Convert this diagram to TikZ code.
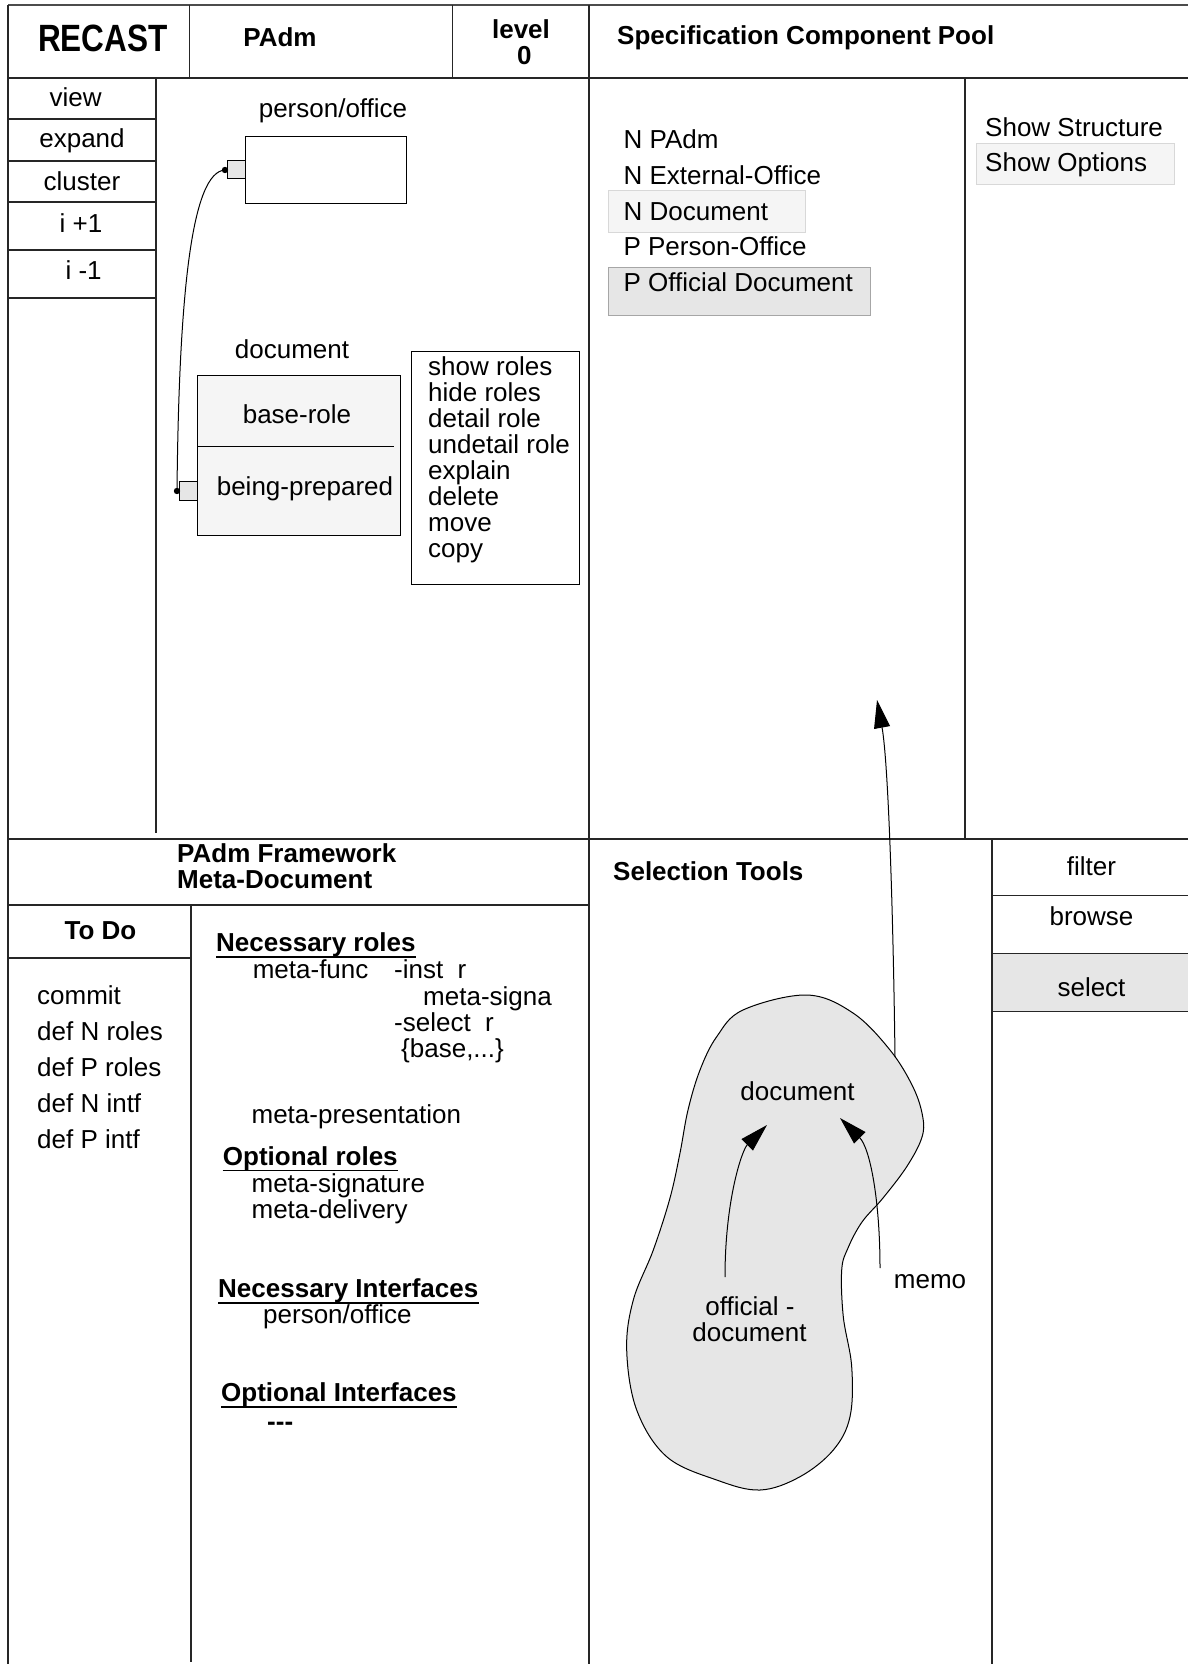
\documentclass[tikz,border=0pt]{standalone}
\usepackage{fontspec}
\setmainfont{Liberation Sans}
\usetikzlibrary{arrows.meta}
\definecolor{fillgray}{HTML}{E6E6E6}
\definecolor{paleg}{HTML}{F5F5F5}
\definecolor{edgeg}{HTML}{D8D8D8}
\newcommand\myfs{\fontsize{26}{26}\selectfont}
\begin{document}
\begin{tikzpicture}[x=1pt,y=-1pt,
  panel/.style={line width=1.4pt, black!85},
  thinline/.style={line width=1pt, black},
  txt/.style={inner sep=0pt, font=\myfs},
  lt/.style={txt, anchor=base west},
  ct/.style={txt, anchor=base},
  bt/.style={lt, font=\myfs\bfseries},
  bct/.style={ct, font=\myfs\bfseries},
  box/.style={draw, thinline, inner sep=0pt, rectangle},
  port/.style={box, fill=fillgray, minimum width=18pt, minimum height=18pt},
  arr/.style={line width=1pt, -{Triangle[length=28pt,width=16pt]}},
  ulin/.style={line width=1.5pt}
]
\useasboundingbox (0,0) rectangle (1188,1664);
\fill[white] (0,0) rectangle (1188,1664);

% ---------- frame ----------
\draw[line width=2.2pt, black!70] (8,5) -- (1188,5);
\draw[panel] (8,5) -- (8,1664);
\draw[panel] (189.4,5) -- (189.4,78);
\draw[panel] (452.4,5) -- (452.4,78);
\draw[panel] (589,5) -- (589,1664);
\draw[panel] (8,78) -- (1188,78);
\draw[panel] (156,78) -- (156,833);
\foreach \yy in {119,161,202,250,298} \draw[panel] (8,\yy) -- (156,\yy);
\draw[panel] (965,78) -- (965,839);
\draw[panel] (8,839) -- (1188,839);
\draw[panel] (8,905) -- (589,905);
\draw[panel] (191,905) -- (191,1662);
\draw[panel] (8,958) -- (191,958);
\fill[fillgray] (992,953.3) rectangle (1188,1011.7);
\draw[panel] (992,839) -- (992,1664);
\foreach \yy in {895.7,953.3,1011.7} \draw[panel] (992,\yy) -- (1188,\yy);

% ---------- header ----------
\node[ct, font=\fontsize{38}{38}\selectfont\bfseries] (recast) at (103,51.7) {\scalebox{0.83}[1]{RECAST}};
\node[bct] (padm) at (280,46.7) {PAdm};
\node[bct] (level) at (521,38.3) {level};
\node[bct] (levelno) at (524.3,64.3) {0};
\node[bt] (pool) at (617,45) {Specification Component Pool};

% ---------- left menu ----------
\node[ct] (mview) at (75.6,107) {view};
\node[ct] (mexpand) at (82,148) {expand};
\node[ct] (mcluster) at (82,190) {cluster};
\node[ct] (mplus) at (81,232) {i +1};
\node[ct] (mminus) at (83.6,279) {i -1};

% ---------- top-left drawing ----------
\node[ct] (polbl) at (333,118) {person/office};
\node[box, fill=white, minimum width=161pt, minimum height=66pt] (po) at (325.5,170) {};
\node[port] (pop) at (236,170) {};
\coordinate (dtop) at (225,170);

\node[ct] (doclbl) at (292,358) {document};
\node[box, fill=paleg, minimum width=202.3pt, minimum height=160.7pt] (doc) at (298.85,455.35) {};
\draw[thinline] (197.7,446.7) -- (394.3,446.7);
\node[ct] (baserole) at (297,423) {base-role};
\node[ct] (beingprep) at (305,495) {being-prepared};
\node[port, minimum width=18.4pt, minimum height=18.6pt] (docp) at (188.5,491) {};
\coordinate (dbot) at (177,491);

\draw[thinline] (dbot) .. controls (179,290) and (192,172) .. (dtop);
\fill (dbot) circle (3.2);
\fill (dtop) circle (3.2);

\node[box, minimum width=167.3pt, minimum height=232.3pt] (menu) at (495.35,467.85) {};
\foreach \t [count=\i from 0] in {show roles,hide roles,detail role,undetail role,explain,delete,move,copy}
  \node[lt] (menu\i) at (428,375+26*\i) {\t};

% ---------- component pool ----------
\draw[fill=paleg, draw=edgeg, line width=1pt] (608,190.7) rectangle (805,232.3);
\draw[fill=fillgray, draw=black!35, line width=1pt] (608,267.7) rectangle (870,315.7);
\node[lt] (p1) at (623.4,148.3) {N PAdm};
\node[lt] (p2) at (623.4,184.1) {N External-Office};
\node[lt] (p3) at (623.4,220) {N Document};
\node[lt] (p4) at (623.4,255.8) {P Person-Office};
\node[lt] (p5) at (623.4,291.7) {P Official Document};

\draw[fill=paleg, draw=edgeg, line width=1pt] (976.7,143.3) rectangle (1174,184.3);
\node[lt] (sstruct) at (985,136.7) {Show Structure};
\node[lt] (sopt) at (985,171.7) {Show Options};

% ---------- framework ----------
\node[bt] (fw1) at (177,862) {PAdm Framework};
\node[bt] (fw2) at (177,888) {Meta-Document};
\node[bct] (todo) at (100.5,939) {To Do};
\foreach \t [count=\i from 0] in {commit,def N roles,def P roles,def N intf,def P intf}
  \node[lt] (td\i) at (37,1004+36.1*\i) {\t};

\node[bt] (nroles) at (216,951.7) {Necessary roles};
\draw[ulin] ([yshift=-5.5pt]nroles.base west) -- ([yshift=-5.5pt]nroles.base east);
\node[lt] (mfunc) at (252.6,978) {meta-func};
\node[lt] (minst) at (394,978) {-inst\ \ r};
\node[lt] (msigna) at (423,1005.7) {meta-signa};
\node[lt] (msel) at (394,1031.7) {-select\ \ r};
\node[lt] (mbase) at (401,1057) {\{base,...\}};
\node[lt] (mpres) at (251.4,1123) {meta-presentation};

\node[bt] (oroles) at (222.7,1165) {Optional roles};
\draw[ulin] ([yshift=-5.5pt]oroles.base west) -- ([yshift=-5.5pt]oroles.base east);
\node[lt] (msig) at (251.4,1192.7) {meta-signature};
\node[lt] (mdel) at (251.4,1218.3) {meta-delivery};

\node[bt] (nintf) at (218,1297.7) {Necessary Interfaces};
\draw[ulin] ([yshift=-5.5pt]nintf.base west) -- ([yshift=-5.5pt]nintf.base east);
\node[lt] (ipo) at (263,1323) {person/office};

\node[bt] (ointf) at (221,1401.7) {Optional Interfaces};
\draw[ulin] ([yshift=-5.5pt]ointf.base west) -- ([yshift=-5.5pt]ointf.base east);
\node[bt] (idash) at (267,1430) {{-}{-}{-}};

% ---------- selection tools ----------
\node[bt] (seltools) at (613,880) {Selection Tools};
\node[ct] (filter) at (1091.5,875) {filter};
\node[ct] (browse) at (1091.5,925) {browse};
\node[ct] (select) at (1091.5,996.7) {select};

\draw[fill=fillgray, line width=1pt] plot[smooth cycle, tension=0.6] coordinates {
  (806.7,995) (853,1013) (890,1050) (913,1087) (922.7,1116.7) (921.7,1138)
  (906.7,1166.7) (883,1198) (862,1222) (848,1248) (841.7,1270) (843.3,1316.7)
  (851.7,1366.7) (850,1416.7) (833.3,1450) (800,1476.7) (760,1490)
  (716.7,1480) (666.7,1456.7) (636.7,1410) (626.7,1350) (633.3,1300)
  (653.3,1250) (670,1198) (680,1153) (688,1110) (700,1070) (716.7,1036.7) (743,1010)};

\node[ct] (bdoc) at (797.5,1100) {document};
\node[ct] (boff1) at (750,1315) {official -};
\node[ct] (boff2) at (749.5,1341.7) {document};
\node[ct] (bmemo) at (930,1288.3) {memo};

\coordinate (oa1) at (725,1277);
\coordinate (oa2) at (767,1125);
\coordinate (ma1) at (880,1268);
\coordinate (ma2) at (840,1118);
\coordinate (la1) at (895,1057);
\coordinate (la2) at (877,700);
\draw[arr] (oa1) .. controls (725,1200) and (742,1150) .. (oa2);
\draw[arr] (ma1) .. controls (880,1200) and (870,1148) .. (ma2);
\draw[arr] (la1) .. controls (893,900) and (888,760) .. (la2);
\end{tikzpicture}
\end{document}
